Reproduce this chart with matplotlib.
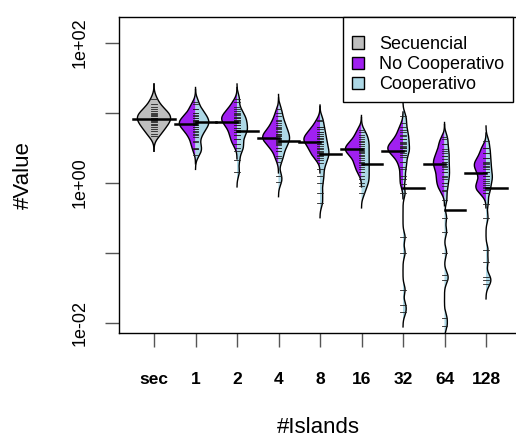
import numpy as np
import matplotlib
matplotlib.use("Agg")
import matplotlib.pyplot as plt
from matplotlib.patches import Patch

groups = ["sec", "1", "2", "4", "8", "16", "32", "64", "128"]

sec_vals = [1.20, 1.12, 1.08, 1.05, 1.02, 1.00, 0.98, 0.96, 0.95, 0.93, 0.92, 0.90,
            0.88, 0.86, 0.84, 0.82, 0.80, 0.77, 0.74, 0.70, 0.66]

nocoop_vals = [
    [1.12, 1.05, 1.00, 0.95, 0.92, 0.90, 0.88, 0.86, 0.84, 0.82, 0.80, 0.77, 0.74, 0.70, 0.65, 0.58, 0.48],
    [1.15, 1.08, 1.03, 1.00, 0.97, 0.94, 0.92, 0.90, 0.88, 0.85, 0.82, 0.78, 0.73, 0.68, 0.62, 0.55],
    [1.00, 0.90, 0.85, 0.80, 0.76, 0.73, 0.70, 0.68, 0.66, 0.64, 0.62, 0.60, 0.57, 0.54, 0.50, 0.45, 0.35],
    [0.88, 0.80, 0.76, 0.72, 0.69, 0.66, 0.64, 0.62, 0.60, 0.58, 0.55, 0.52, 0.48, 0.44, 0.40, 0.35],
    [0.75, 0.68, 0.62, 0.58, 0.55, 0.52, 0.50, 0.48, 0.46, 0.44, 0.42, 0.38, 0.33, 0.28, 0.22, 0.15],
    [0.80, 0.72, 0.66, 0.62, 0.58, 0.55, 0.53, 0.51, 0.49, 0.47, 0.45, 0.43, 0.40, 0.36, 0.30, 0.22, 0.10, -0.02],
    [0.62, 0.55, 0.48, 0.42, 0.38, 0.34, 0.30, 0.27, 0.24, 0.20, 0.15, 0.10, 0.05, 0.00, -0.05, -0.12],
    [0.50, 0.42, 0.35, 0.30, 0.27, 0.24, 0.20, 0.15, 0.10, 0.02, -0.03, -0.06, -0.10, -0.15],
]

coop_vals = [
    [1.15, 1.05, 1.00, 0.97, 0.93, 0.90, 0.88, 0.85, 0.83, 0.80, 0.77, 0.72, 0.68, 0.60, 0.50, 0.48, 0.40],
    [1.20, 1.05, 0.98, 0.93, 0.90, 0.86, 0.82, 0.78, 0.75, 0.72, 0.68, 0.62, 0.55, 0.50, 0.45, 0.32, 0.15],
    [1.05, 0.95, 0.88, 0.82, 0.78, 0.74, 0.70, 0.67, 0.64, 0.61, 0.58, 0.55, 0.50, 0.45, 0.38, 0.30, 0.10, 0.01],
    [0.90, 0.80, 0.72, 0.66, 0.60, 0.55, 0.50, 0.45, 0.42, 0.38, 0.33, 0.28, 0.20, 0.10, 0.00, -0.15, -0.29],
    [0.72, 0.65, 0.60, 0.55, 0.50, 0.45, 0.40, 0.35, 0.30, 0.25, 0.20, 0.15, 0.10, 0.05, 0.00, -0.05, -0.15],
    [0.95, 0.85, 0.75, 0.68, 0.62, 0.56, 0.50, 0.45, 0.40, 0.30, 0.20, 0.05, -0.15, -0.78, -1.00, -1.53, -1.75, -1.85],
    [0.65, 0.55, 0.45, 0.38, 0.30, 0.22, 0.15, 0.08, 0.00, -0.10, -0.25, -0.50, -0.70, -1.00, -1.32, -1.39, -1.93, -2.05],
    [0.60, 0.50, 0.42, 0.35, 0.28, 0.22, 0.15, 0.10, 0.05, 0.00, -0.08, -0.15, -0.30, -0.50, -0.96, -1.13, -1.34, -1.39, -1.45],
]

# bean means (log10)
sec_mean = 0.91
nocoop_means = [0.84, 0.86, 0.64, 0.586, 0.48, 0.453, 0.267, 0.143]
coop_means = [0.86, 0.74, 0.60, 0.41, 0.267, -0.08, -0.39, -0.08]

legend_labels = ["Secuencial", "No Cooperativo", "Cooperativo"]

# ---- style ----
C_SEC = "#BEBEBE"
C_NOC = "#A020F0"
C_COOP = "#ADD8E6"
BW = 0.07
CUT = 3
MAXWIDTH = 0.40
LL = 0.07

plt.rcParams["font.family"] = ["Liberation Sans", "DejaVu Sans"]

W, H = 516, 448
fig = plt.figure(figsize=(W / 100, H / 100), dpi=100)
ax = fig.add_axes([119 / W, (H - 333) / H, (518 - 119) / W, (333 - 17) / H])


def kde(vals):
    v = np.asarray(vals, float)
    g = np.linspace(v.min() - CUT * BW, v.max() + CUT * BW, 300)
    d = np.exp(-0.5 * ((g[:, None] - v[None, :]) / BW) ** 2).sum(1) / (len(v) * BW * np.sqrt(2 * np.pi))
    return g, d


dens = {"sec": kde(sec_vals)}
for i in range(len(nocoop_vals)):
    dens[("n", i)] = kde(nocoop_vals[i])
    dens[("c", i)] = kde(coop_vals[i])
dmax = max(d.max() for _, d in dens.values())
S = MAXWIDTH / dmax


def half(at, g, d, side, color):
    w = d * S
    y = 10 ** g
    if side < 0:
        ax.fill_betweenx(y, at - w, at, facecolor=color, edgecolor="none", zorder=2)
        ax.plot(at - w, y, color="black", lw=1.0, zorder=3)
    else:
        ax.fill_betweenx(y, at, at + w, facecolor=color, edgecolor="none", zorder=2)
        ax.plot(at + w, y, color="black", lw=1.0, zorder=3)


def points(at, vals):
    for v in vals:
        ax.plot([at - LL, at + LL], [10 ** v, 10 ** v], color="#222222", lw=0.6, zorder=4)


# sec bean (full)
g, d = dens["sec"]
half(1, g, d, -1, C_SEC)
half(1, g, d, 1, C_SEC)
points(1, sec_vals)
ax.plot([1 - 0.5, 1 + 0.5], [10 ** sec_mean] * 2, color="black", lw=1.8, zorder=5)

for i in range(len(nocoop_vals)):
    at = i + 2
    g, d = dens[("n", i)]
    half(at, g, d, -1, C_NOC)
    g, d = dens[("c", i)]
    half(at, g, d, 1, C_COOP)
    points(at, nocoop_vals[i])
    points(at, coop_vals[i])
    ax.plot([at - 0.5, at], [10 ** nocoop_means[i]] * 2, color="black", lw=1.8, zorder=5)
    ax.plot([at, at + 0.5], [10 ** coop_means[i]] * 2, color="black", lw=1.8, zorder=5)

ax.set_yscale("log")
ax.set_ylim(10 ** (-2.147), 10 ** 2.367)
ax.set_xlim(1 - 35 / 41.5, 9 + 32 / 41.5)

ax.set_yticks([1e2, 1e1, 1e0, 1e-1, 1e-2])
ax.set_yticklabels(["1e+02", "", "1e+00", "", "1e-02"], rotation=90, va="center", fontsize=13)
ax.yaxis.set_minor_locator(matplotlib.ticker.NullLocator())
ax.set_xticks(range(1, len(groups) + 1))
ax.set_xticklabels(groups, fontsize=12.5, fontweight="bold")
ax.tick_params(axis="both", length=10, width=1, color="#555555")
ax.tick_params(axis="y", pad=12)
ax.tick_params(axis="x", pad=18)
for sp in ax.spines.values():
    sp.set_linewidth(1.0)
ax.spines["right"].set_visible(False)

ax.set_xlabel("#Islands", fontsize=16, labelpad=22)
ax.set_ylabel("#Value", fontsize=16, labelpad=27)

handles = [Patch(facecolor=c, edgecolor="black", lw=1.0) for c in (C_SEC, C_NOC, C_COOP)]
leg = ax.legend(handles, legend_labels, loc="upper right",
                bbox_to_anchor=((513 - 119) / (518 - 119), 1.0), borderaxespad=0,
                fancybox=False, framealpha=1, edgecolor="black", fontsize=13,
                handlelength=0.7, handleheight=0.7, handletextpad=0.8,
                labelspacing=0.17, borderpad=0.5, title=" ", title_fontsize=5)
leg.get_frame().set_linewidth(1.0)

fig.savefig("out.png", dpi=100)
